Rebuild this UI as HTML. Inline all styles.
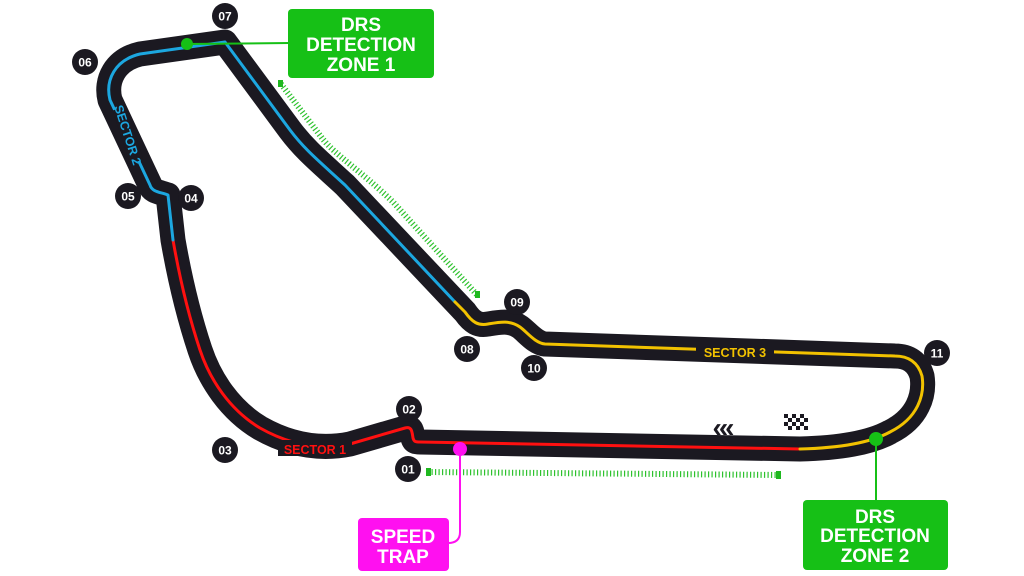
<!DOCTYPE html>
<html><head><meta charset="utf-8"><style>
html,body{margin:0;padding:0;background:#fff;}
svg{display:block;}
text{font-family:"Liberation Sans",sans-serif;font-weight:bold;}
</style></head><body>
<svg width="1024" height="576" viewBox="0 0 1024 576" xmlns="http://www.w3.org/2000/svg">
<path d="M281,84 L322,138 C335,155 360,170 393,202 L478,296" fill="none" stroke="#2ec22e" stroke-width="6" stroke-dasharray="1.2 2.3"/>
<rect x="278" y="80" width="5" height="7" fill="#1fb81f"/>
<rect x="475" y="291" width="5" height="7" fill="#1fb81f"/>
<path d="M428,472 L779,475" fill="none" stroke="#2ec22e" stroke-width="6" stroke-dasharray="1.2 2.3"/>
<rect x="426" y="468" width="5" height="8" fill="#1fb81f"/>
<rect x="776" y="471" width="5" height="8" fill="#1fb81f"/>

<g fill="none" stroke-linecap="round" stroke-linejoin="round">
<path d="M420,442 L800,449 C840,448 870,443 890,432 C918,418 925,395 922,376 C918,362 908,356 895,356 L545,344 C535,343 527,332 520,327 C510,320 500,322 488,324 C478,326 472,322 465,312 L345,185 C320,162 305,150 290,130 L225,42 L140,54 C115,60 105,80 110,100 L150,185 C152,192 160,192 168,195 L173,240 C180,280 190,320 200,350 C210,380 230,410 260,428 C290,445 320,450 350,444 L405,428 C412,426 412,432 413,438 C414,442 416,442 420,442 Z" stroke="#1b1921" stroke-width="25"/>
<path d="M800,449 L420,442 C416,442 414,442 413,438 C412,432 412,426 405,428 L350,444 C320,450 290,445 260,428 C230,410 210,380 200,350 C190,320 180,280 173,240" stroke="#ff1010" stroke-width="3"/>
<path d="M173,240 L168,195 C160,192 152,192 150,185 L110,100 C105,80 115,60 140,54 L225,42 L290,130 C305,150 320,162 345,185 L455,302" stroke="#1ca7e0" stroke-width="3"/>
<path d="M455,302 L465,312 C472,322 478,326 488,324 C500,322 510,320 520,327 C527,332 535,343 545,344 L895,356 C908,356 918,362 922,376 C925,395 918,418 890,432 C870,443 840,448 800,449" stroke="#f2c200" stroke-width="3"/>
</g>
<rect x="278" y="440" width="74" height="16" fill="#1b1921"/>
<text x="315" y="454" font-size="12.5" fill="#ff1010" text-anchor="middle">SECTOR 1</text>
<rect x="696" y="344" width="78" height="16" fill="#1b1921"/>
<text x="735" y="357" font-size="12.5" fill="#f2c200" text-anchor="middle">SECTOR 3</text>
<g transform="translate(128,135) rotate(72)">
<rect x="-28" y="-7" width="56" height="14" fill="#1b1921"/>
<text x="0" y="4.5" font-size="12.5" fill="#1ca7e0" text-anchor="middle">SECTOR 2</text>
</g>

<text x="722" y="437" font-size="28" fill="#1b1921" text-anchor="middle" letter-spacing="-3">‹‹‹</text>
<g fill="#1b1921">
<rect x="784" y="414" width="4" height="4"/><rect x="792" y="414" width="4" height="4"/><rect x="800" y="414" width="4" height="4"/>
<rect x="788" y="418" width="4" height="4"/><rect x="796" y="418" width="4" height="4"/><rect x="804" y="418" width="4" height="4"/>
<rect x="784" y="422" width="4" height="4"/><rect x="792" y="422" width="4" height="4"/><rect x="800" y="422" width="4" height="4"/>
<rect x="788" y="426" width="4" height="4"/><rect x="796" y="426" width="4" height="4"/><rect x="804" y="426" width="4" height="4"/>
</g>

<g font-size="12" fill="#fff" text-anchor="middle">
<g><circle cx="225" cy="16" r="13" fill="#1b1921"/><text x="225" y="20.5" fill="#fff">07</text></g>
<g><circle cx="85" cy="62" r="13" fill="#1b1921"/><text x="85" y="66.5" fill="#fff">06</text></g>
<g><circle cx="128" cy="196" r="13" fill="#1b1921"/><text x="128" y="200.5" fill="#fff">05</text></g>
<g><circle cx="191" cy="198" r="13" fill="#1b1921"/><text x="191" y="202.5" fill="#fff">04</text></g>
<g><circle cx="517" cy="302" r="13" fill="#1b1921"/><text x="517" y="306.5" fill="#fff">09</text></g>
<g><circle cx="467" cy="349" r="13" fill="#1b1921"/><text x="467" y="353.5" fill="#fff">08</text></g>
<g><circle cx="534" cy="368" r="13" fill="#1b1921"/><text x="534" y="372.5" fill="#fff">10</text></g>
<g><circle cx="937" cy="353" r="13" fill="#1b1921"/><text x="937" y="357.5" fill="#fff">11</text></g>
<g><circle cx="409" cy="409" r="13" fill="#1b1921"/><text x="409" y="413.5" fill="#fff">02</text></g>
<g><circle cx="408" cy="469" r="13" fill="#1b1921"/><text x="408" y="473.5" fill="#fff">01</text></g>
<g><circle cx="225" cy="450" r="13" fill="#1b1921"/><text x="225" y="454.5" fill="#fff">03</text></g>
</g>

<line x1="187" y1="44" x2="290" y2="43" stroke="#16c016" stroke-width="2"/>
<circle cx="187" cy="44" r="6" fill="#16c016"/>
<rect x="288" y="9" width="146" height="69" rx="4" fill="#16c016"/>
<g font-size="19" fill="#fff" text-anchor="middle">
<text x="361" y="31">DRS</text><text x="361" y="51">DETECTION</text><text x="361" y="71">ZONE 1</text>
</g>
<line x1="876" y1="439" x2="876" y2="502" stroke="#16c016" stroke-width="2"/>
<circle cx="876" cy="439" r="7" fill="#16c016"/>
<rect x="803" y="500" width="145" height="70" rx="4" fill="#16c016"/>
<g font-size="19" fill="#fff" text-anchor="middle">
<text x="875" y="523">DRS</text><text x="875" y="542">DETECTION</text><text x="875" y="562">ZONE 2</text>
</g>
<path d="M460,449 L460,532 Q460,543 448,543" fill="none" stroke="#ff10f0" stroke-width="2"/>
<circle cx="460" cy="449" r="7" fill="#ff10f0"/>
<rect x="358" y="518" width="91" height="53" rx="4" fill="#ff10f0"/>
<g font-size="19" fill="#fff" text-anchor="middle">
<text x="403" y="543">SPEED</text><text x="403" y="563">TRAP</text>
</g>
</svg>
</body></html>
